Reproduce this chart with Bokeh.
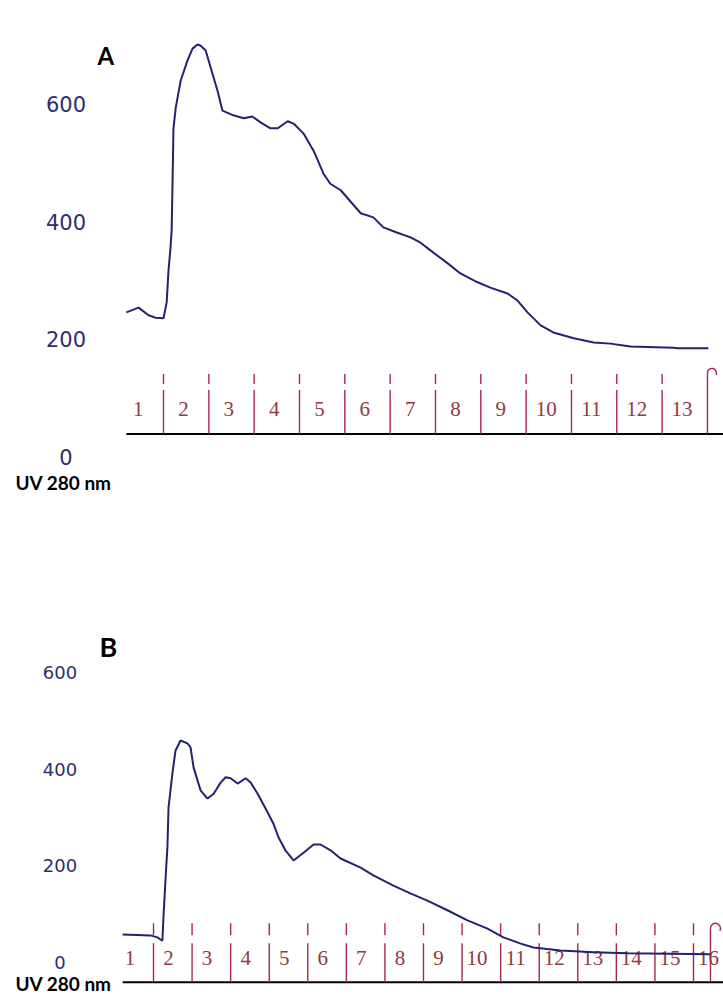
import numpy as np
from bokeh.plotting import figure
from bokeh.models import Range1d, Label, ColumnDataSource
from bokeh.layouts import column
from bokeh.embed import file_html
from bokeh.resources import INLINE
from bokeh.core.properties import value

# ---------------- data ----------------
# Panel A: elution profile, x in fraction units, y = UV 280 nm signal
A_FRAC = [0.18, 0.45, 0.67, 0.82, 1.00, 1.07, 1.11, 1.15, 1.18, 1.20, 1.22, 1.27,
          1.38, 1.53, 1.64, 1.75, 1.82, 1.93, 2.04, 2.19, 2.30, 2.54, 2.77, 2.96,
          3.14, 3.36, 3.52, 3.74, 3.87, 4.09, 4.31, 4.53, 4.68, 4.91, 5.35, 5.63,
          5.85, 6.16, 6.45, 6.67, 6.89, 7.27, 7.55, 7.93, 8.21, 8.59, 8.81, 9.03,
          9.32, 9.60, 10.05, 10.49, 10.86, 11.30, 12.25, 12.34, 13.02]
A_UV = [246, 254, 241, 237, 236, 263, 317, 351, 385, 470, 558, 593,
        639, 673, 693, 700, 698, 690, 661, 622, 588, 580, 575, 578,
        568, 558, 558, 570, 566, 549, 520, 481, 464, 453, 414, 407,
        390, 381, 373, 364, 351, 329, 312, 297, 288, 278, 266, 246,
        224, 212, 202, 195, 193, 188, 186, 185, 185]
A_FRACTIONS = list(range(1, 14))      # fraction numbers printed on the record
A_BOUNDS = list(range(1, 13))         # fraction change marks
A_END = 13.0                          # end-of-run mark
A_BASE = 40                           # recorder baseline

# Panel B
B_FRAC = [0.20, 0.92, 1.10, 1.23, 1.26, 1.31, 1.36, 1.39, 1.49, 1.57, 1.70, 1.88,
          1.96, 2.04, 2.22, 2.40, 2.56, 2.74, 2.87, 3.00, 3.18, 3.39, 3.52, 3.70,
          3.96, 4.11, 4.24, 4.42, 4.63, 4.89, 5.15, 5.33, 5.59, 5.85, 6.37, 6.70,
          7.22, 7.66, 8.10, 8.62, 9.14, 9.66, 10.07, 10.52, 10.85, 11.55, 12.41,
          13.29, 15.44]
B_UV = [58, 56, 52, 45, 97, 170, 238, 321, 391, 438, 459, 453,
        445, 403, 356, 339, 349, 372, 383, 381, 370, 381, 372, 349,
        310, 287, 259, 232, 211, 227, 244, 244, 232, 215, 196, 180,
        159, 143, 128, 108, 87, 70, 52, 39, 31, 25, 21,
        19, 17]
B_FRACTIONS = list(range(1, 17))
B_BOUNDS = list(range(1, 16))
B_END = 15.44
B_BASE = -41

Y_TICKS = [0, 200, 400, 600]
Y_TICK_LABELS = ["0", "200", "400", "600"]
PANEL_LABELS = ["A", "B"]
Y_TITLE = "UV 280 nm"

# ---------------- styling ----------------
CURVE = "#22226e"
TICK = "#a8284a"
DIGIT = "#8e3b3b"
YLAB = "#2e2e6c"
W = 723


def panel(frac, uv, fractions, bounds, end, base, *, height, xr, yr,
          ylab_x, ylab_size, digit_dx, digit_dy, tick_dash, tick_len, end_len,
          arc_r, letter, letter_px, letter_size, ytitle_px, ytitle_size):
    p = figure(width=W, height=height, x_range=Range1d(*xr), y_range=Range1d(*yr),
               output_backend="svg", toolbar_location=None, title=None,
               x_axis_location=None, y_axis_location=None,
               min_border=0, min_border_left=0, min_border_right=0,
               min_border_top=0, min_border_bottom=0)
    p.outline_line_color = None
    p.grid.visible = False
    p.background_fill_color = "white"
    p.border_fill_color = "white"

    pxu = W / (xr[1] - xr[0])
    pyu = height / (yr[1] - yr[0])

    def dx(px):  # pixel from left -> data x
        return xr[0] + px / pxu

    def dy(py):  # pixel from top -> data y
        return yr[1] - py / pyu

    # y scale labels
    ysrc = ColumnDataSource(dict(x=[dx(ylab_x)] * len(Y_TICKS), y=Y_TICKS, t=Y_TICK_LABELS))
    p.text(x="x", y="y", text="t", source=ysrc, text_align="center",
           text_baseline="middle", text_font=value("DejaVu Sans"),
           text_font_size=ylab_size, text_color=YLAB)

    # recorder baseline (starts with the trace, runs to the right edge)
    p.ray(x=[frac[0]], y=[base], length=0, angle=0, line_color="black", line_width=2)

    # fraction change marks: long tick + small detached dash
    p.ray(x=bounds, y=base, length=tick_len, length_units="screen", angle=np.pi / 2,
          line_color=TICK, line_width=1.4, line_dash=tick_dash)

    # end-of-run mark with hook
    p.ray(x=[end], y=base, length=end_len, length_units="screen", angle=np.pi / 2,
          line_color=TICK, line_width=1.4)
    p.arc(x=[end + arc_r / pxu], y=[base + end_len / pyu], radius=arc_r,
          radius_units="screen", start_angle=-0.5, end_angle=np.pi,
          line_color=TICK, line_width=1.4)

    # fraction numbers
    src = ColumnDataSource(dict(x=[n - 1 for n in fractions],
                                y=[base] * len(fractions),
                                t=[str(n) for n in fractions]))
    p.text(x="x", y="y", text="t", source=src, x_offset=digit_dx, y_offset=digit_dy,
           text_align="center", text_baseline="middle",
           text_font=value("Liberation Serif"), text_font_size="21px",
           text_color=DIGIT)

    # UV trace
    p.line(frac, uv, line_color=CURVE, line_width=2)

    p.add_layout(Label(x=dx(letter_px[0]), y=dy(letter_px[1]),
                       text=letter, text_font="Lato", text_font_style="bold",
                       text_font_size=letter_size, text_color="black",
                       text_align="left", text_baseline="middle"))
    p.add_layout(Label(x=dx(ytitle_px[0]), y=dy(ytitle_px[1]),
                       text=Y_TITLE, text_font="Lato", text_font_style="bold",
                       text_font_size=ytitle_size, text_color="black",
                       text_align="left", text_baseline="middle"))
    return p


# panel A occupies page rows 0..560
pA = panel(A_FRAC, A_UV, A_FRACTIONS, A_BOUNDS, A_END, A_BASE,
           height=560, xr=(-2.596, 13.354), yr=(-174.6, 774.6),
           ylab_x=65.5, ylab_size="21px", digit_dx=20, digit_dy=-25,
           tick_dash="44 6 10 40", tick_len=60, end_len=61, arc_r=4.5,
           letter=PANEL_LABELS[0], letter_px=(97, 55), letter_size="24px",
           ytitle_px=(15, 482), ytitle_size="19px")

# panel B occupies page rows 560..994
pB = panel(B_FRAC, B_UV, B_FRACTIONS, B_BOUNDS, B_END, B_BASE,
           height=434, xr=(-2.967, 15.778), yr=(-66.2, 831.3),
           ylab_x=59.5, ylab_size="18px", digit_dx=15, digit_dy=-24,
           tick_dash="39 8 12 40", tick_len=59, end_len=54, arc_r=5,
           letter=PANEL_LABELS[1], letter_px=(99, 86), letter_size="27px",
           ytitle_px=(15, 423), ytitle_size="19px")

layout = column(pA, pB, spacing=0)
open("out.html", "w").write(file_html(layout, INLINE))
